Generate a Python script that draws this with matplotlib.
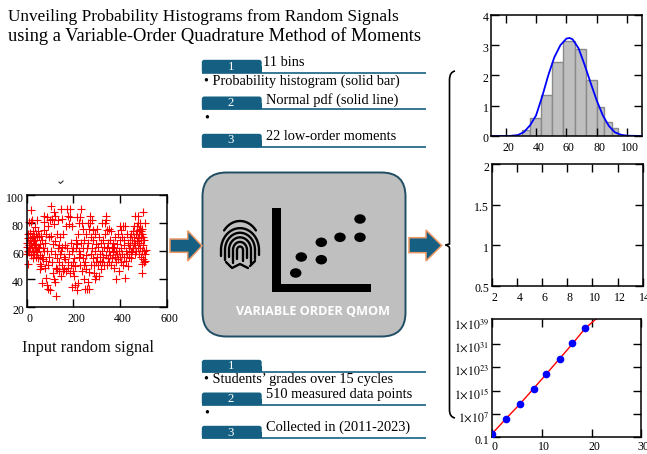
import numpy as np
import matplotlib
matplotlib.use('Agg')
import matplotlib.pyplot as plt
from matplotlib.patches import FancyBboxPatch, Rectangle, Polygon, Ellipse, PathPatch
from matplotlib.path import Path
from matplotlib.ticker import NullLocator
from matplotlib.transforms import ScaledTranslation

plt.rcParams['font.family'] = ['Liberation Serif', 'DejaVu Serif']
plt.rcParams['mathtext.fontset'] = 'stix'

# --- data ---
signal_points = [
    (0,63),(2,58),(3,66),(4,72),(5,60),(6,51),(7,69),(9,64),(10,81),(11,59),(13,68),(14,73),(15,62),(17,89),
    (18,81),(19,66),(20,57),(21,70),(23,82),(24,63),(25,60),(26,74),(28,67),(29,55),(30,71),(31,64),(33,58),
    (34,77),(35,62),(36,68),(38,60),(39,72),(40,56),(41,65),(43,59),(45,82),(46,70),(47,63),(48,55),(49,74),
    (52,62),(53,71),(55,57),(56,47),(58,51),(59,65),(60,49),(62,71),(64,56),(65,68),(67,37),(69,62),(70,54),
    (72,85),(73,75),(75,60),(76,81),(78,48),(80,66),(82,53),(83,72),(84,41),(85,84),(87,60),(88,36),(90,78),
    (92,50),(93,33),(95,56),(96,70),(98,32),(99,82),
    (103,92),(105,71),(106,60),(108,52),(110,83),(112,65),(113,44),(115,88),(116,79),(118,40),(119,58),(120,85),
    (122,38),(123,67),(125,48),(127,28),(128,55),(130,72),(131,47),(133,62),(135,82),(136,52),(138,64),(140,46),
    (141,58),(143,70),(145,90),(146,42),(148,60),(149,83),
    (151,50),(153,63),(155,46),(157,72),(159,56),(161,47),(163,64),(165,54),(167,78),(170,46),(172,90),(174,62),
    (175,52),(176,85),(178,48),(180,79),(182,58),(184,44),(185,90),(186,84),(188,66),(190,50),(192,60),(194,34),
    (195,78),(197,52),(198,46),(199,62),
    (201,42),(203,55),(205,36),(207,49),(209,62),(211,68),(213,32),(215,84),(217,65),(219,37),(221,72),(222,56),
    (224,60),(225,80),(227,50),(228,84),(230,58),(232,90),(234,66),(235,80),(237,46),(239,55),(240,76),(242,62),
    (243,40),(245,50),(247,68),(249,33),
    (251,52),(252,57),(254,72),(255,47),(257,33),(259,62),(261,38),(262,80),(264,66),(265,76),(266,45),(268,33),
    (270,85),(272,80),(274,58),(275,50),(277,70),(279,62),(280,82),(282,55),(284,75),(285,68),(287,50),(288,44),
    (290,60),(292,40),(294,72),(295,52),(297,65),(298,42),
    (300,76),(302,56),(304,63),(306,50),(308,70),(310,42),(312,58),(314,53),(316,66),(318,47),(320,80),(322,60),
    (324,52),(326,68),(328,56),(330,63),(332,50),(334,72),(335,80),(337,57),(339,85),(340,82),(342,62),(344,50),
    (345,75),(347,66),(348,55),(350,76),
    (352,60),(354,52),(356,68),(358,57),(360,74),(362,50),(364,63),(366,55),(368,59),(370,66),(372,48),(374,62),
    (376,70),(378,56),(380,40),(382,60),(384,52),(386,65),(388,58),(390,72),(392,54),(394,60),(396,46),(398,68),
    (399,56),
    (400,78),(402,62),(404,52),(405,75),(407,58),(409,70),(410,78),(412,50),(414,64),(416,56),(418,68),(420,78),
    (422,41),(424,60),(426,53),(428,72),(430,58),(432,66),(434,49),(436,62),(438,56),(440,70),(442,64),(444,59),
    (446,72),(448,55),
    (450,60),(452,68),(454,74),(455,62),(457,78),(458,66),(460,70),(462,58),(464,64),(465,85),(467,72),(468,60),
    (470,78),(472,67),(473,74),(474,62),(475,80),(476,69),(478,85),(479,75),(480,58),(481,72),(482,66),(484,76),
    (485,80),(486,62),(487,70),(488,74),(489,56),(490,68),(491,76),(492,44),(493,60),(494,72),(495,51),(496,64),
    (497,88),(498,54),(499,70),(501,60),(502,52),(503,68),(505,80),(506,58),(508,53),(510,61),
]

hist_edges = [30.5, 36, 43, 50.3, 57.6, 65.5, 72.7, 80, 85, 90, 93.8]
hist_heights = [0.2, 0.58, 1.35, 2.45, 3.15, 2.87, 1.85, 0.95, 0.45, 0.25]
pdf_x = [10.5, 22, 28, 32, 36, 40, 44, 48, 52, 56, 60, 62, 64, 68, 72, 76, 80, 84, 88, 92, 96, 100, 110]
pdf_y = [0, 0, 0.03, 0.13, 0.35, 0.68, 1.3, 2.0, 2.6, 3.0, 3.22, 3.24, 3.2, 2.9, 2.35, 1.75, 1.17, 0.68, 0.33, 0.12, 0.04, 0.01, 0]

moment_order = [0, 2.7, 5.5, 8.3, 10.9, 13.6, 16.1, 18.7]
moment_value = [1.4, 2e5, 3e10, 5e15, 6e20, 1e26, 2e31, 2.5e36]
fit_order = [0, 2.7, 5.5, 8.3, 10.9, 13.6, 16.1, 18.7, 21]
fit_value = [2, 2e5, 2e10, 5e15, 6e20, 1.2e26, 1e31, 2.5e36, 6e39]

title_lines = ['Unveiling Probability Histograms from Random Signals',
               'using a Variable-Order Quadrature Method of Moments']
top_labels = ['11 bins', 'Normal pdf (solid line)', '22 low-order moments']
bottom_labels = ['', '510 measured data points', 'Collected in (2011-2023)']

W, H = 647, 454
BLUE = '#156082'

fig = plt.figure(figsize=(W / 100, H / 100), dpi=100)


def ax_px(left, top, right, bottom):
    return fig.add_axes([left / W, 1 - bottom / H, (right - left) / W, (bottom - top) / H])


def style_axis(ax, dx=2.5, xpad=4.5):
    ax.tick_params(which='major', direction='in', length=6, width=1, top=True, right=True,
                   labelsize=8.6, pad=2)
    ax.tick_params(axis='x', pad=xpad)
    for s in ax.spines.values():
        s.set_linewidth(1.1)
    # tick labels sit a bit right of and below their ticks in the original
    shift_x = ScaledTranslation(dx / 100, 0, fig.dpi_scale_trans)
    shift_y = ScaledTranslation(0, -2 / 100, fig.dpi_scale_trans)
    for lab in ax.get_xticklabels():
        lab.set_transform(lab.get_transform() + shift_x)
    for lab in ax.get_yticklabels():
        lab.set_transform(lab.get_transform() + shift_y)


# --- background layer in pixel coordinates ---
bg = fig.add_axes([0, 0, 1, 1])
bg.set_xlim(0, W)
bg.set_ylim(H, 0)
bg.axis('off')

bg.text(8, 17, title_lines[0], fontsize=12.45, va='center', ha='left', color='black')
bg.text(8, 36, title_lines[1], fontsize=13.3, va='center', ha='left', color='black')

bg.text(22, 348, 'Input random signal', fontsize=11.8, va='center', ha='left', color='#111111')
bg.plot([59, 60.5, 63], [182, 183.5, 181], color='#333333', lw=0.8)


def tab(top, bottom, digit, digit_y):
    bg.add_patch(FancyBboxPatch((203, top + 1), 57.5, bottom - top - 2,
                                boxstyle='round,pad=1.2,rounding_size=2.5', fc=BLUE, ec='none'))
    bg.add_patch(Rectangle((201.8, top + 6), 60, bottom - top - 6, fc=BLUE, ec='none'))
    bg.plot([201.8, 426], [bottom, bottom], color=BLUE, lw=1.2, solid_capstyle='butt')
    bg.text(231, digit_y, digit, color='white', fontsize=9.2, ha='center', va='center')


tab(60, 72.7, '1', 66.5)
tab(96.7, 109.3, '2', 103)
tab(134, 147.3, '3', 140)
tab(360, 372.3, '1', 366)
tab(392.7, 405, '2', 399.5)
tab(426, 438.3, '3', 433)

label_font = 10.4
bg.text(263, 62.5, top_labels[0], fontsize=label_font, va='center')
bg.text(265.5, 100, top_labels[1], fontsize=label_font, va='center')
bg.text(265.5, 136, top_labels[2], fontsize=label_font, va='center')
bg.text(265.5, 394.3, bottom_labels[1], fontsize=label_font, va='center')
bg.text(265.5, 427.7, bottom_labels[2], fontsize=label_font, va='center')
bg.text(204.5, 81.7, '\u2022 Probability histogram (solid bar)', fontsize=label_font, va='center')
bg.text(204.5, 379.5, '\u2022 Students\u2019 grades over 15 cycles', fontsize=label_font, va='center')
bg.text(204.5, 118, '\u2022', fontsize=label_font, va='center')
bg.text(204.5, 413, '\u2022', fontsize=label_font, va='center')

# central box
bg.add_patch(FancyBboxPatch((202.5 + 24, 172.5 + 24), 203 - 48, 164 - 48,
                            boxstyle='round,pad=24,rounding_size=24',
                            fc='#BFBFBF', ec='#1F4E63', lw=1.4))
bg.text(313, 311.7, 'VARIABLE ORDER QMOM', color='white', fontsize=9.1, weight='bold',
        family='Open Sans', ha='center', va='center')

# chart icon inside the box
bg.add_patch(Rectangle((272.3, 207.7), 9, 84, fc='black', ec='none'))
bg.add_patch(Rectangle((272.3, 283.7), 98.4, 8, fc='black', ec='none'))
icon_dots = [(295.7, 273), (301.3, 257), (321.3, 259.7), (321.3, 242.3), (340, 237.3), (360, 237.3), (360, 219)]
for cx, cy in icon_dots:
    bg.add_patch(Ellipse((cx, cy), 11.5, 9.5, fc='black', ec='none'))

# fingerprint icon
fp_cx, fp_cy = 240, 250
t = np.linspace(0, np.pi, 40)
for r, leg_l, leg_r in [(3, 9, 11), (7, 13, 8), (11, 7, 13), (15, 10, 9), (19, 6, 5)]:
    xs = np.r_[fp_cx - r, fp_cx + r * np.cos(t[::-1]), fp_cx + r]
    ys = np.r_[fp_cy + leg_l, fp_cy - 1.15 * r * np.sin(t[::-1]), fp_cy + leg_r]
    bg.plot(xs, ys, color='black', lw=1.7, solid_capstyle='round')
t2 = np.linspace(0.65, np.pi - 0.65, 20)
bg.plot(fp_cx + 20 * np.cos(t2), 245 - 24 * np.sin(t2), color='black', lw=1.7, solid_capstyle='round')
bg.plot([232, 240, 248], [268, 264, 268], color='black', lw=1.7, solid_capstyle='round')
bg.plot([226, 231], [262, 267], color='black', lw=1.7, solid_capstyle='round')
bg.plot([250, 255], [266, 261], color='black', lw=1.7, solid_capstyle='round')


# block arrows
def block_arrow(x0, x1, xh, y0, y1, yt, yb):
    ym = (yt + yb) / 2
    pts = [(x0, y0), (xh, y0), (xh, yt), (x1, ym), (xh, yb), (xh, y1), (x0, y1)]
    bg.add_patch(Polygon(pts, closed=True, fc=BLUE, ec='#EE9A68', lw=1.1))


block_arrow(170, 202, 187.7, 239, 252.3, 230.7, 261)
block_arrow(409, 441.7, 426, 237.7, 252.7, 230, 261)

# curly brace
brace = Path([(455, 71), (449.5, 72), (449.5, 80), (449.5, 236), (449.5, 242), (449.5, 244), (445.5, 245),
              (449.5, 246), (449.5, 248), (449.5, 254), (449.5, 410), (449.5, 417), (455, 418)],
             [Path.MOVETO, Path.CURVE3, Path.CURVE3, Path.LINETO, Path.CURVE3, Path.CURVE3, Path.LINETO,
              Path.CURVE3, Path.CURVE3, Path.LINETO, Path.LINETO, Path.CURVE3, Path.CURVE3])
bg.add_patch(PathPatch(brace, fc='none', ec='black', lw=1.2))

# --- input signal ---
ax1 = ax_px(26.7, 195, 167, 307)
signal_x, signal_y = zip(*signal_points)
ax1.plot(signal_x, signal_y, '+', color='red', ms=5.2, mew=0.8, clip_on=False)
ax1.set_xlim(0, 600)
ax1.set_ylim(20, 100)
ax1.set_xticks([0, 200, 400, 600])
ax1.set_yticks([20, 40, 60, 80, 100])
style_axis(ax1)

# --- histogram with normal pdf ---
ax2 = ax_px(491.3, 15, 642.3, 136)
ax2.bar(hist_edges[:-1], hist_heights, width=np.diff(hist_edges), align='edge',
        color='#BFBFBF', edgecolor='#8a8a8a', linewidth=1)
ax2.plot(pdf_x, pdf_y, color='#0000FF', lw=1.3)
ax2.set_xlim(10.5, 110)
ax2.set_ylim(0, 4)
ax2.set_xticks([20, 40, 60, 80, 100])
ax2.set_yticks([0, 1, 2, 3, 4])
style_axis(ax2)

# --- empty panel ---
ax3 = ax_px(491.7, 164.3, 642.7, 285.7)
ax3.set_xlim(2, 14)
ax3.set_ylim(0.5, 2)
ax3.set_xticks([2, 4, 6, 8, 10, 12, 14])
ax3.set_xticklabels(['2', '4', '6', '8', '10', '12', '14'])
ax3.set_yticks([0.5, 1, 1.5, 2])
ax3.set_yticklabels(['0.5', '1', '1.5', '2'])
style_axis(ax3)

# --- moments ---
ax4 = ax_px(492.3, 319, 641.3, 437.3)
ax4.plot(fit_order, fit_value, color='red', lw=1)
ax4.plot(moment_order, moment_value, 'o', color='#0000FF', ms=4.5, zorder=3)
ax4.set_yscale('log')
ax4.set_xlim(0, 30)
ax4.set_ylim(0.1, 10**39.6)
ax4.set_xticks([0, 10, 20, 30])
ax4.set_yticks([0.1, 1e7, 1e15, 1e23, 1e31, 1e39])
ax4.set_yticklabels(['0.1', r'$1{\times}10^{7}$', r'$1{\times}10^{15}$', r'$1{\times}10^{23}$',
                     r'$1{\times}10^{31}$', r'$1{\times}10^{39}$'])
ax4.yaxis.set_minor_locator(NullLocator())
style_axis(ax4, xpad=3)
ax4.yaxis.get_major_ticks()[-1].tick1line.set_visible(False)
ax4.yaxis.get_major_ticks()[-1].tick2line.set_visible(False)

fig.savefig('out.png', dpi=100)
